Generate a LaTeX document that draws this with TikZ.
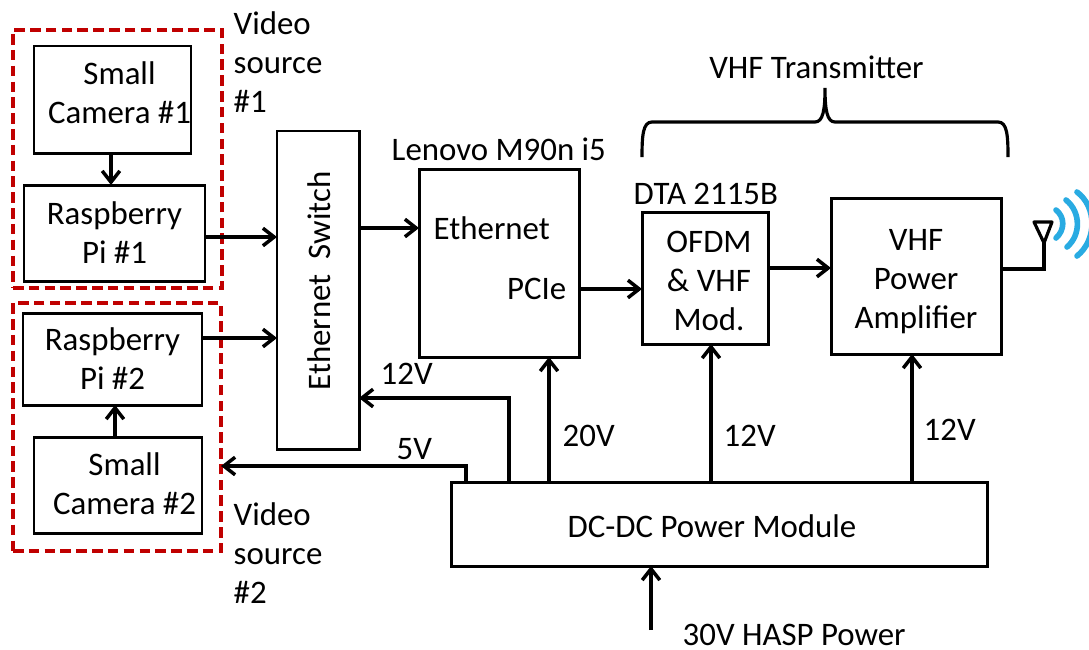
\documentclass[tikz,border=0pt]{standalone}
\usepackage{fontspec}
\setmainfont{Carlito}
\usetikzlibrary{positioning, arrows.meta}
\definecolor{srcred}{RGB}{192,0,0}
\definecolor{wifiblue}{RGB}{41,171,226}
\tikzset{
    block/.style={rectangle, draw=black, fill=white, line width=0.85pt, align=center, inner sep=0pt, outer sep=0pt, font=\fontsize{9.35}{11.1}\selectfont},
    srcbox/.style={rectangle, draw=srcred, dashed, dash pattern=on 3pt off 1.5pt, line width=1.1pt, inner sep=0pt, outer sep=0pt},
    lbl/.style={align=left, inner sep=0pt, font=\fontsize{9.35}{11.1}\selectfont},
    midlbl/.style={lbl, align=center},
    arr/.style={-{Straight Barb[length=3.2pt,width=5pt]}, line width=1pt},
    wire/.style={line width=0.9pt},
    wave/.style={draw=wifiblue, line width=1.6pt, line cap=round}
}
\begin{document}
\begin{tikzpicture}[y=-1cm]
    \useasboundingbox (0,0) rectangle (10.89,6.49);

    % Video sources
    \node[srcbox, minimum width=2.09cm, minimum height=2.58cm] (src1) at (1.175,1.59) {};
    \node[srcbox, minimum width=2.08cm, minimum height=2.48cm] (src2) at (1.17,4.27) {};
    \node[block, minimum width=1.57cm, minimum height=1.07cm] (cam1) at (1.125,0.995) {};
    \node[midlbl] (cam1txt) at (1.195,0.93) {Small\\Camera \#1};
    \node[block, minimum width=1.81cm, minimum height=0.96cm] (pi1) at (1.145,2.33) {Raspberry\\Pi \#1};
    \node[block, minimum width=1.79cm, minimum height=0.92cm] (pi2) at (1.125,3.59) {Raspberry\\Pi \#2};
    \node[block, minimum width=1.68cm, minimum height=0.96cm] (cam2) at (1.18,4.85) {};
    \node[midlbl] (cam2txt) at (1.245,4.835) {Small\\Camera \#2};
    \node[lbl, anchor=north west] (lab1) at (2.33,0.11) {Video\\source\\\#1};
    \node[lbl, anchor=north west] (lab2) at (2.33,5.015) {Video\\source\\\#2};

    % Main chain
    \node[block, minimum width=0.82cm, minimum height=3.18cm] (sw) at (3.18,2.90) {};
    \node[lbl, rotate=90] (swtxt) at (3.19,2.81) {Ethernet\ \ Switch};
    \node[block, minimum width=1.60cm, minimum height=1.88cm] (pc) at (4.99,2.63) {};
    \node[lbl, anchor=west] (eth) at (4.33,2.28) {Ethernet};
    \node[lbl, anchor=east] (pcie) at (5.67,2.89) {PCIe};
    \node[lbl, anchor=west] (lenovo) at (3.91,1.49) {Lenovo M90n i5};
    \node[block, minimum width=1.26cm, minimum height=1.32cm] (mod) at (7.05,2.78) {};
    \node[midlbl] (modtxt) at (7.09,2.81) {OFDM\\\&\ VHF\\Mod.};
    \node[lbl, anchor=west] (dta) at (6.33,1.94) {DTA 2115B};
    \node[block, minimum width=1.70cm, minimum height=1.56cm] (amp) at (9.16,2.76) {};
    \node[midlbl] (amptxt) at (9.16,2.82) {VHF\\Power\\Amplifier};
    \node[block, minimum width=5.36cm, minimum height=0.84cm] (dc) at (7.19,5.24) {};
    \node[lbl] (dctxt) at (7.12,5.26) {DC-DC Power Module};
    \node[lbl, anchor=west] (hasp) at (6.82,6.35) {30V HASP Power};
    \node[lbl] (vhf) at (8.165,0.67) {VHF Transmitter};

    % Brace
    \coordinate (brl) at (6.42,1.57);
    \coordinate (brm) at (8.25,0.88);
    \coordinate (brr) at (10.08,1.57);
    \draw[wire] (brl) .. controls (6.42,1.35) and (6.43,1.22) .. (6.52,1.22) -- (8.15,1.22)
        .. controls (8.23,1.22) and (8.25,1.10) .. (brm)
        .. controls (8.25,1.10) and (8.27,1.22) .. (8.35,1.22) -- (9.98,1.22)
        .. controls (10.07,1.22) and (10.08,1.35) .. (brr);

    % Signal arrows
    \draw[arr] (cam1.south -| 1.11,0) -- (pi1.north -| 1.11,0);
    \draw[arr] (cam2.north -| 1.15,0) -- (pi2.south -| 1.15,0);
    \coordinate (swa) at (2.77,2.37);
    \coordinate (swb) at (2.77,3.38);
    \coordinate (pca) at (4.19,2.28);
    \coordinate (moda) at (6.42,2.89);
    \coordinate (ampa) at (8.31,2.68);
    \draw[arr] (pi1.east |- swa) -- (swa);
    \draw[arr] (pi2.east |- swb) -- (swb);
    \draw[arr] (sw.east |- pca) -- (pca);
    \draw[arr] (pc.east |- moda) -- (moda);
    \draw[arr] (mod.east |- ampa) -- (ampa);

    % Power arrows
    \coordinate (p12) at (5.09,3.98);
    \coordinate (p5) at (4.66,4.66);
    \coordinate (pin) at (6.51,6.30);
    \draw[arr] (dc.north -| p12) -- (p12) -- (sw.east |- p12);
    \draw[arr] (dc.north -| p5) -- (p5) -- (src2.east |- p5);
    \draw[arr] (dc.north -| 5.49,0) -- (pc.south -| 5.49,0);
    \draw[arr] (dc.north -| 7.11,0) -- (mod.south -| 7.11,0);
    \draw[arr] (dc.north -| 9.12,0) -- (amp.south -| 9.12,0);
    \draw[arr] (pin) -- (dc.south -| pin);
    \node[lbl, anchor=west] (v12a) at (3.80,3.74) {12V};
    \node[lbl, anchor=west] (v5) at (3.96,4.49) {5V};
    \node[lbl, anchor=west] (v20) at (5.62,4.36) {20V};
    \node[lbl, anchor=west] (v12b) at (7.23,4.36) {12V};
    \node[lbl, anchor=west] (v12c) at (9.23,4.30) {12V};

    % Antenna
    \coordinate (ant) at (10.44,2.43);
    \draw[wire] (amp.east |- 0,2.69) -- (ant |- 0,2.69) -- (ant);
    \draw[wire, line join=round] (ant) -- (10.34,2.22) -- (10.52,2.22) -- cycle;
    \draw[wave] (10.56,2.10) .. controls (10.65,2.17) and (10.65,2.30) .. (10.56,2.38);
    \draw[wave] (10.66,2.00) .. controls (10.81,2.12) and (10.81,2.35) .. (10.67,2.47);
    \draw[wave] (10.77,1.92) .. controls (10.97,2.07) and (10.97,2.40) .. (10.77,2.56);
\end{tikzpicture}
\end{document}
